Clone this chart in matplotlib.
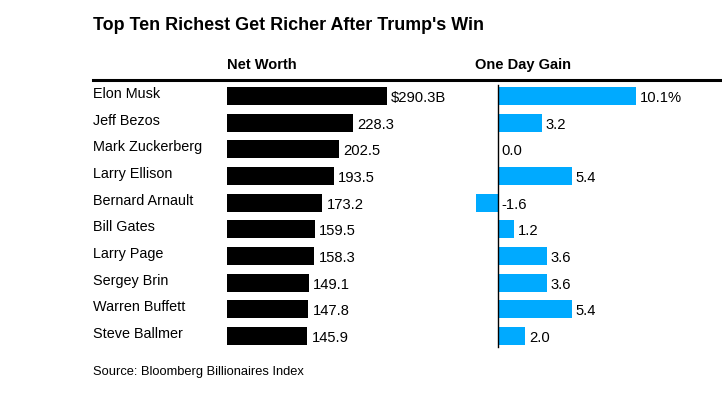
import matplotlib
matplotlib.use('Agg')
import matplotlib.pyplot as plt
from matplotlib.transforms import blended_transform_factory

# data
names = ['Elon Musk', 'Jeff Bezos', 'Mark Zuckerberg', 'Larry Ellison', 'Bernard Arnault',
         'Bill Gates', 'Larry Page', 'Sergey Brin', 'Warren Buffett', 'Steve Ballmer']
net_worth = [290.3, 228.3, 202.5, 193.5, 173.2, 159.5, 158.3, 149.1, 147.8, 145.9]
net_labels = ['$290.3B', '228.3', '202.5', '193.5', '173.2', '159.5', '158.3', '149.1', '147.8', '145.9']
day_gain = [10.1, 3.2, 0.0, 5.4, -1.6, 1.2, 3.6, 3.6, 5.4, 2.0]
gain_labels = ['10.1%', '3.2', '0.0', '5.4', '-1.6', '1.2', '3.6', '3.6', '5.4', '2.0']

W, H = 722, 394
plt.rcParams['font.family'] = ['Liberation Sans', 'DejaVu Sans']
fig = plt.figure(figsize=(W / 100, H / 100), dpi=100)

def fx(px):
    return px / W

def fy(py):
    return 1 - py / H

top, bottom = 82.7, 349.3
ax1 = fig.add_axes([fx(227), fy(bottom), fx(460 - 227), (bottom - top) / H])
ax2 = fig.add_axes([fx(470), fy(bottom), fx(722 - 470), (bottom - top) / H])

y = list(range(len(names)))
ax1.barh(y, net_worth, height=0.68, color='black')
ax1.set_xlim(0, 233 / (160 / 290.3))
ax2.barh(y, day_gain, height=0.68, color='#00aaff')
scale = 138 / 10.1
ax2.set_xlim(-28 / scale, 224 / scale)
ax2.axvline(0, ymin=0.01, ymax=0.99, color='black', lw=1)

for ax in (ax1, ax2):
    ax.set_ylim(9.5, -0.5)
    ax.axis('off')

for i in y:
    ax1.annotate(net_labels[i], (net_worth[i], i), xytext=(3, -1.5), textcoords='offset points',
                 va='center', ha='left', fontsize=10.6, color='black')
    xv = max(day_gain[i], 0)
    ax2.annotate(gain_labels[i], (xv, i), xytext=(2.5, -1.5), textcoords='offset points',
                 va='center', ha='left', fontsize=10.6, color='black')

tr = blended_transform_factory(fig.transFigure, ax1.transData)
for i in y:
    ax1.text(fx(93), i - 0.08, names[i], transform=tr, va='center', ha='left', fontsize=10.4)

fig.text(fx(93), fy(25), "Top Ten Richest Get Richer After Trump's Win",
         fontweight='bold', fontsize=12.9, va='center', ha='left')
fig.text(fx(227), fy(65), 'Net Worth', fontweight='bold', fontsize=10.5, va='center', ha='left')
fig.text(fx(475), fy(65), 'One Day Gain', fontweight='bold', fontsize=10.5, va='center', ha='left')
fig.add_artist(plt.Line2D([fx(93), 1.0], [fy(80), fy(80)], color='black', lw=2.2,
                          transform=fig.transFigure))
fig.text(fx(93), fy(372), 'Source: Bloomberg Billionaires Index', fontsize=9.3,
         va='center', ha='left')

fig.savefig('out.png', dpi=100)
